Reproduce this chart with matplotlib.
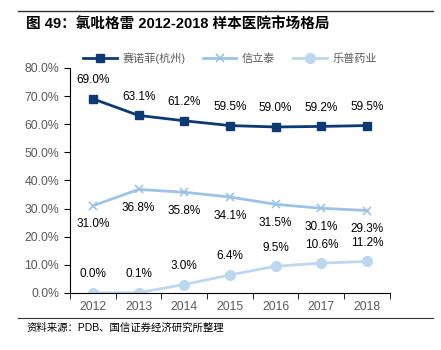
import matplotlib.pyplot as plt
from matplotlib.ticker import PercentFormatter

plt.rcParams['font.family'] = ['Liberation Sans', 'Noto Sans CJK SC', 'DejaVu Sans']

years = ["2012", "2013", "2014", "2015", "2016", "2017", "2018"]
sanofi = [69.0, 63.1, 61.2, 59.5, 59.0, 59.2, 59.5]
xinlitai = [31.0, 36.8, 35.8, 34.1, 31.5, 30.1, 29.3]
lepu = [0.0, 0.1, 3.0, 6.4, 9.5, 10.6, 11.2]
names = ["赛诺菲(杭州)", "信立泰", "乐普药业"]

fig = plt.figure(figsize=(4.41, 3.5), dpi=100)
ax = fig.add_axes([0.159, 0.163, 0.725, 0.643])

x = range(len(years))
c1, c2, c3 = "#0E3A73", "#9DC3E6", "#BDD7EE"
ax.plot(x, sanofi, color=c1, lw=2, marker="s", ms=6, label=names[0])
ax.plot(x, xinlitai, color=c2, lw=2, marker="x", ms=6, mew=1.2, label=names[1])
ax.plot(x, lepu, color=c3, lw=2, marker="o", ms=7, label=names[2])

lab = dict(textcoords="offset points", ha="center", fontsize=8.5)
for i in x:
    ax.annotate(f"{sanofi[i]:.1f}%", (i, sanofi[i]), xytext=(0, 9), va="bottom", **lab)
    ax.annotate(f"{xinlitai[i]:.1f}%", (i, xinlitai[i]), xytext=(0, -9), va="top", **lab)
    ax.annotate(f"{lepu[i]:.1f}%", (i, lepu[i]), xytext=(0, 9), va="bottom", **lab)

ax.set_xlim(-0.5, 6.5)
ax.set_ylim(0, 80)
ax.set_yticks(range(0, 81, 10))
ax.yaxis.set_major_formatter(PercentFormatter(decimals=1))
ax.set_xticks(list(x))
ax.set_xticklabels(years)
ax.set_xticks([i - 0.5 for i in range(len(years) + 1)], minor=True)
ax.tick_params(axis="x", which="major", length=0, pad=6)
ax.tick_params(axis="x", which="minor", length=4, direction="out")
ax.tick_params(axis="y", length=4, direction="out", pad=4)
ax.tick_params(labelsize=8.8, labelcolor="#595959")
for s in ["top", "right"]:
    ax.spines[s].set_visible(False)

ax.legend(loc="lower center", bbox_to_anchor=(0.5, 0.975), ncol=3, frameon=False,
          fontsize=8, handlelength=3, columnspacing=1.6, handletextpad=0.5,
          labelcolor="#595959")

fig.add_artist(plt.Line2D([0.04, 0.982], [0.968, 0.968], color="#333333", lw=1))
fig.text(0.06, 0.928, "图 49：氯吡格雷 2012-2018 样本医院市场格局", fontsize=10.5,
         fontweight="bold", va="center")
fig.add_artist(plt.Line2D([0.04, 0.982], [0.092, 0.092], color="#333333", lw=0.8))
fig.text(0.06, 0.065, "资料来源：PDB、国信证券经济研究所整理", fontsize=7.5, va="center")

fig.savefig("out.png", dpi=100)
